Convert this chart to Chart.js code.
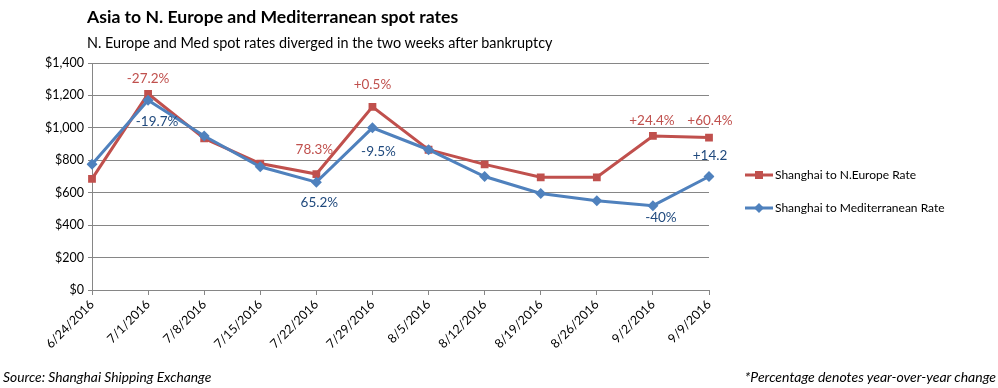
<!DOCTYPE html>
<html>
<head>
<meta charset="utf-8">
<script src="https://cdn.jsdelivr.net/npm/chart.js@4.4.1/dist/chart.umd.min.js"></script>
<style>
  html, body { margin: 0; padding: 0; background: #fff; }
  #wrap { position: relative; width: 998px; height: 388px; overflow: hidden; font-family: Lato, "Open Sans", sans-serif; }
  #c { position: absolute; left: 0; top: 0; }
  .t { position: absolute; white-space: nowrap; color: #000; }
  #title { left: 87px; top: 6px; font-size: 17.6px; font-weight: bold; }
  #sub { left: 87px; top: 34px; font-size: 14.4px; }
  #src { left: 3px; top: 368px; font-size: 13.8px; font-style: italic; }
  #note { right: 2px; top: 368px; font-size: 14px; font-style: italic; }
</style>
</head>
<body>
<div id="wrap">
  <canvas id="c" width="998" height="388"></canvas>
  <div class="t" id="title">Asia to N. Europe and Mediterranean spot rates</div>
  <div class="t" id="sub">N. Europe and Med spot rates diverged in the two weeks after bankruptcy</div>
  <div class="t" id="src">Source: Shanghai Shipping Exchange</div>
  <div class="t" id="note">*Percentage denotes year-over-year change</div>
</div>
<script>
const categories = ["6/24/2016","7/1/2016","7/8/2016","7/15/2016","7/22/2016","7/29/2016","8/5/2016","8/12/2016","8/19/2016","8/26/2016","9/2/2016","9/9/2016"];
const europeRates = [685, 1210, 935, 780, 715, 1130, 865, 775, 695, 695, 950, 940];
const medRates    = [775, 1170, 950, 760, 665, 1000, 865, 700, 595, 550, 520, 700];
const europeLabels = [null, "-27.2%", null, null, "78.3%", "+0.5%", null, null, null, null, "+24.4%", "+60.4%"];
const medLabels    = [null, "-19.7%", null, null, "65.2%", "-9.5%", null, null, null, null, "-40%", "+14.2"];
const seriesNames = ["Shanghai to N.Europe Rate", "Shanghai to Mediterranean Rate"];
const yTicks = [0, 200, 400, 600, 800, 1000, 1200, 1400];

const RED = "#C0504D", BLUE = "#4F81BD";
const RED_LBL = "#C0504D", BLUE_LBL = "#1F497D";
const GRID = "#868686";
const FONT = "Lato, 'Open Sans', sans-serif";

// label offsets (dx, dy) in px relative to the point
const europeOff = [null,[0,-15],null,null,[-2,-24],[0,-22],null,null,null,null,[-1,-15],[1,-17]];
const medOff    = [null,[9,21],null,null,[3,20],[6,24],null,null,null,null,[8,12],[1,-21]];

const labelPlugin = {
  id: "pctLabels",
  afterDatasetsDraw(chart) {
    const ctx = chart.ctx;
    ctx.save();
    ctx.font = "13.5px " + FONT;
    ctx.textAlign = "center";
    ctx.textBaseline = "middle";
    const sets = [[0, europeLabels, europeOff, RED_LBL], [1, medLabels, medOff, BLUE_LBL]];
    sets.forEach(([di, labels, offs, col]) => {
      const meta = chart.getDatasetMeta(di);
      labels.forEach((txt, i) => {
        if (!txt) return;
        const p = meta.data[i];
        ctx.fillStyle = col;
        ctx.fillText(txt, p.x + offs[i][0], p.y + offs[i][1]);
      });
    });
    ctx.restore();
  }
};

const legendPlugin = {
  id: "sideLegend",
  afterDraw(chart) {
    const ctx = chart.ctx;
    ctx.save();
    const x0 = 745, x1 = 773, mx = 759;
    const rows = [[175, RED, "rect"], [208, BLUE, "rectRot"]];
    rows.forEach(([y, col, shape], i) => {
      ctx.strokeStyle = col;
      ctx.lineWidth = 3;
      ctx.beginPath(); ctx.moveTo(x0, y); ctx.lineTo(x1, y); ctx.stroke();
      ctx.fillStyle = col;
      ctx.beginPath();
      if (shape === "rect") { ctx.rect(mx - 4, y - 4, 8, 8); }
      else { ctx.moveTo(mx, y - 5); ctx.lineTo(mx + 5, y); ctx.lineTo(mx, y + 5); ctx.lineTo(mx - 5, y); ctx.closePath(); }
      ctx.fill();
      ctx.fillStyle = "#000";
      ctx.font = "12px " + FONT;
      ctx.textAlign = "left";
      ctx.textBaseline = "middle";
      ctx.fillText(seriesNames[i], 775, y);
    });
    ctx.restore();
  }
};

new Chart(document.getElementById("c"), {
  type: "line",
  data: {
    labels: categories,
    datasets: [
      { label: seriesNames[0], data: europeRates, borderColor: RED, backgroundColor: RED, borderWidth: 3,
        pointStyle: "rect", pointRadius: 5.5, pointBorderWidth: 0, tension: 0, order: 1 },
      { label: seriesNames[1], data: medRates, borderColor: BLUE, backgroundColor: BLUE, borderWidth: 3,
        pointStyle: "rectRot", pointRadius: 5.5, pointBorderWidth: 0, tension: 0, order: 0 }
    ]
  },
  options: {
    responsive: false,
    animation: false,
    devicePixelRatio: 1,
    layout: { padding: { left: 0, top: 63, right: 289, bottom: 0 } },
    plugins: { legend: { display: false }, tooltip: { enabled: false }, title: { display: false } },
    scales: {
      x: {
        offset: false,
        grid: { drawOnChartArea: false, drawTicks: true, tickLength: 5, color: GRID },
        border: { display: true, color: GRID, width: 1 },
        ticks: { minRotation: 45, maxRotation: 45, autoSkip: false, color: "#000", padding: 2,
                 font: { family: FONT, size: 12.5 } },
        afterFit(s) { s.height = 98; }
      },
      y: {
        min: 0, max: 1400,
        afterBuildTicks(s) { s.ticks = yTicks.map(v => ({ value: v })); },
        grid: { color: GRID, tickLength: 4, drawTicks: true },
        border: { display: true, color: GRID, width: 1 },
        ticks: { color: "#000", padding: 4, font: { family: FONT, size: 12.5 },
                 callback: v => "$" + v.toLocaleString("en-US") },
        afterFit(s) { s.width = 92; }
      }
    }
  },
  plugins: [labelPlugin, legendPlugin]
});
</script>
</body>
</html>
